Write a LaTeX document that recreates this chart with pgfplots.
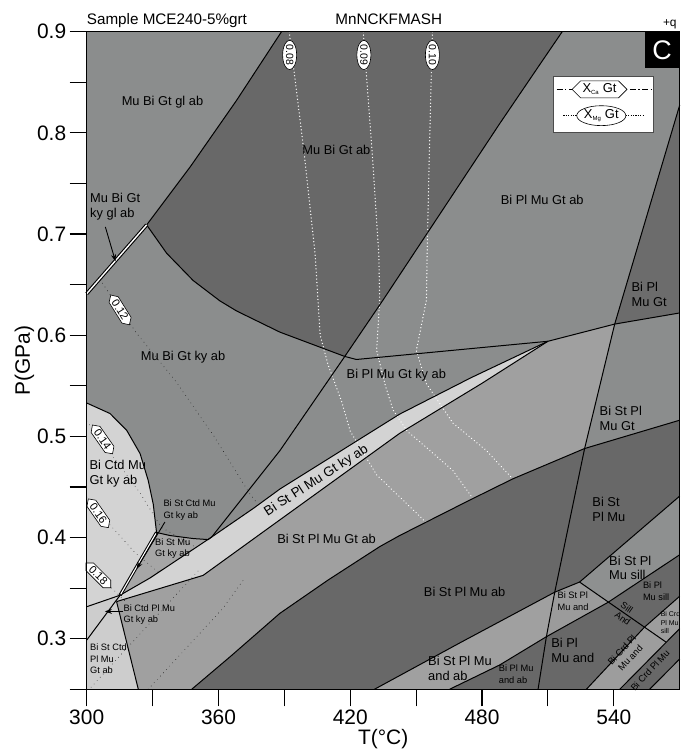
\documentclass[border=0pt]{standalone}
\usepackage{pgfplots}
\pgfplotsset{compat=1.18}
\usepackage{fontspec}
\setmainfont{Liberation Sans}
\usetikzlibrary{shapes.symbols,shapes.geometric,arrows.meta}
\definecolor{cbase}{RGB}{139,141,141}
\definecolor{cdark}{RGB}{104,104,104}
\definecolor{cmid}{RGB}{160,160,160}
\definecolor{clight}{RGB}{211,211,211}
\definecolor{cstmu}{RGB}{166,166,166}
\definecolor{cand}{RGB}{155,155,155}
\definecolor{csill}{RGB}{142,144,144}
\definecolor{ccrd}{RGB}{157,157,157}
\definecolor{cright}{RGB}{143,143,143}
\definecolor{cplmugt}{RGB}{108,108,108}
\newcommand{\lab}{\fontsize{12.9}{15}\selectfont}
\newcommand{\slab}{\fontsize{9.3}{11.5}\selectfont}
\newcommand{\tlab}{\fontsize{7}{8.5}\selectfont}
\begin{document}
\begin{tikzpicture}
\begin{axis}[
  scale only axis, width=593bp, height=657.6bp,
  xmin=300, xmax=570, ymin=0.25, ymax=0.9,
  axis on top, clip=false,
  axis background/.style={fill=cbase},
  axis line style={line width=1.1bp},
  tick align=outside, major tick length=17bp,
  tick style={black, line width=1.1bp},
  xtick pos=bottom, ytick pos=left,
  xtick={300,330,360,390,420,450,480,510,540},
  xticklabels={300,,360,,420,,480,,540},
  ytick={0.25,0.3,0.35,0.4,0.45,0.5,0.55,0.6,0.65,0.7,0.75,0.8,0.85,0.9},
  yticklabels={,0.3,,0.4,,0.5,,0.6,,0.7,,0.8,,0.9},
  ticklabel style={font=\fontsize{21}{21}\selectfont},
  /pgf/number format/assume math mode=true,
  xlabel={T(°C)}, ylabel={P(GPa)},
  label style={font=\fontsize{21}{21}\selectfont},
  xlabel style={yshift=2bp},
  ylabel style={yshift=-4bp},
]
% ---------- fields ----------
\addplot[draw=none, fill=cdark] coordinates {(388.7,0.9) (368.2,0.832) (347,0.766) (327.3,0.709) (336.4,0.681) (348.5,0.654) (360.6,0.634) (368.2,0.624) (388,0.603) (417.5,0.579) (435,0.635) (488,0.809) (507.7,0.872) (516.5,0.9)} -- cycle;
\addplot[draw=none, fill=cmid] coordinates {(313.6,0.3367) (353,0.3626) (380,0.405) (442.5,0.503) (480,0.5525) (510,0.594) (540.4,0.611) (526.7,0.488) (494,0.458) (474.4,0.437) (442.5,0.402) (433.4,0.391) (409.9,0.358) (387.9,0.325) (365.2,0.282) (347.8,0.25) (323.5,0.25)} -- cycle;
\addplot[draw=none, fill=cdark] coordinates {(347.8,0.25) (365.2,0.282) (387.9,0.325) (409.9,0.358) (433.4,0.391) (442.5,0.402) (474.4,0.437) (494,0.458) (526.7,0.488) (570,0.516) (570,0.25)} -- cycle;
\addplot[draw=none, fill=cmid] coordinates {(431,0.25) (470,0.296) (513.1,0.346) (509.3,0.302) (488,0.274) (465.2,0.25)} -- cycle;
\addplot[draw=none, fill=cand] coordinates {(513.1,0.346) (524.4,0.356) (537.4,0.336) (509.3,0.302)} -- cycle;
\addplot[draw=none, fill=csill] coordinates {(524.4,0.356) (570,0.441) (570,0.383) (537.4,0.336)} -- cycle;
\addplot[draw=none, fill=ccrd] coordinates {(527.5,0.25) (554,0.3115) (570,0.342) (570,0.31) (563.8,0.2966) (542.7,0.25)} -- cycle;
\addplot[draw=none, fill=cright] coordinates {(556.3,0.25) (570,0.28) (570,0.25)} -- cycle;
\addplot[draw=none, fill=cplmugt] coordinates {(540.4,0.611) (570,0.622) (570,0.8275)} -- cycle;
\addplot[draw=none, fill=clight] coordinates {(315.2,0.343) (328.8,0.36) (356.9,0.4005) (376,0.429) (388,0.448) (442.5,0.522) (475,0.558) (510,0.594) (480,0.5525) (442.5,0.503) (380,0.405) (353,0.3626) (313.6,0.3367)} -- cycle;
\addplot[draw=none, fill=cstmu] coordinates {(331.8,0.405) (337.9,0.402) (348.5,0.399) (355.3,0.398) (356.9,0.4005) (328.8,0.36) (315.2,0.343)} -- cycle;
\addplot[draw=none, fill=clight] coordinates {(300,0.533) (310.6,0.5226) (318.2,0.506) (324.3,0.483) (328,0.4565) (330.3,0.433) (331.8,0.405) (315.2,0.343) (300,0.3316)} -- cycle;
\addplot[draw=none, fill=clight!97!black] coordinates {(300,0.25) (323.5,0.25) (313.6,0.3367) (315.2,0.343) (300,0.3316)} -- cycle;
% ---------- X_Mg isopleths (white dotted) ----------
\pgfplotsset{mgiso/.style={white, line width=1.4bp, dash pattern=on 0.01bp off 3.4bp, line cap=round}}
\addplot[mgiso] coordinates {(392.2,0.9) (399,0.78) (404,0.68) (406.3,0.60) (410,0.57) (416,0.535) (420,0.505) (432,0.462) (444,0.437) (455,0.414)};
\addplot[mgiso] coordinates {(425.9,0.9) (430,0.78) (433,0.68) (433.4,0.635) (432,0.585) (436,0.55) (439.5,0.526) (446,0.505) (454.7,0.489) (466.8,0.466) (476,0.438)};
\addplot[mgiso] coordinates {(457.4,0.9) (456,0.78) (455,0.68) (454.7,0.635) (450.1,0.585) (454.7,0.552) (466.8,0.513) (482,0.486) (494,0.458)};
% ---------- X_Ca isopleths (black dotted) ----------
\pgfplotsset{caiso/.style={black!85, line width=0.9bp, dash pattern=on 0.01bp off 4.5bp, line cap=round}}
\addplot[caiso] coordinates {(306,0.655) (322.7,0.602) (340.2,0.5555) (358,0.50) (374.3,0.443) (378,0.433)};
\addplot[caiso] coordinates {(300,0.515) (312,0.48) (324,0.445) (334,0.41) (350,0.39)};
\addplot[caiso] coordinates {(300,0.44) (310,0.414) (322,0.385) (333,0.365)};
\addplot[caiso] coordinates {(300,0.376) (310,0.353) (318,0.336)};
\addplot[caiso] coordinates {(302,0.252) (318,0.29) (335,0.33) (352,0.37)};
\addplot[caiso] coordinates {(328,0.25) (345,0.29) (362,0.33) (372,0.36)};
% ---------- boundaries ----------
\pgfplotsset{bd/.style={black, line width=1bp}}
\addplot[bd] coordinates {(388.7,0.9) (368.2,0.832) (347,0.766) (327.3,0.709)};
\addplot[bd] coordinates {(327.3,0.709) (336.4,0.681) (348.5,0.654) (360.6,0.634) (368.2,0.624) (388,0.603) (417.5,0.579) (422.8,0.576) (510,0.594) (540.4,0.611) (570,0.622)};
\addplot[bd] coordinates {(516.5,0.9) (507.7,0.872) (488,0.809) (435,0.635) (417.5,0.579) (388,0.486) (356.9,0.4005)};
\addplot[bd] coordinates {(570,0.8275) (540.4,0.611) (526.7,0.488) (513.1,0.346) (509.3,0.302) (505.5,0.25)};
\addplot[bd] coordinates {(300,0.3316) (315.2,0.343) (328.8,0.36) (356.9,0.4005) (376,0.429) (388,0.448) (442.5,0.522) (475,0.558) (510,0.594)};
\addplot[bd] coordinates {(313.6,0.3367) (353,0.3626) (380,0.405) (442.5,0.503) (480,0.5525) (510,0.594)};
\addplot[bd] coordinates {(300,0.2986) (315.2,0.343)};
\addplot[bd] coordinates {(313.6,0.3367) (323.5,0.25)};
\addplot[bd] coordinates {(300,0.533) (310.6,0.5226) (318.2,0.506) (324.3,0.483) (328,0.4565) (330.3,0.433) (331.8,0.405) (337.9,0.402) (348.5,0.399) (355.3,0.398) (356.9,0.4005)};
\addplot[bd] coordinates {(347.8,0.25) (365.2,0.282) (387.9,0.325) (409.9,0.358) (433.4,0.391) (442.5,0.402) (474.4,0.437) (494,0.458) (526.7,0.488) (570,0.516)};
\addplot[bd] coordinates {(431,0.25) (470,0.296) (513.1,0.346) (524.4,0.356) (570,0.441)};
\addplot[bd] coordinates {(465.2,0.25) (488,0.274) (509.3,0.302) (537.4,0.336) (570,0.383)};
\addplot[bd] coordinates {(524.4,0.356) (563.8,0.2966)};
\addplot[bd] coordinates {(527.5,0.25) (554,0.3115) (570,0.342)};
\addplot[bd] coordinates {(542.7,0.25) (570,0.31)};
\addplot[bd] coordinates {(556.3,0.25) (570,0.28)};
% double lines
\addplot[black, line width=3.6bp] coordinates {(327.3,0.709) (300,0.641)};
\addplot[white, line width=1.4bp] coordinates {(327.3,0.709) (300,0.641)};
\addplot[black, line width=3.2bp] coordinates {(331.8,0.405) (315.2,0.343)};
\addplot[white, line width=1.1bp] coordinates {(331.5,0.404) (315.5,0.344)};
% arrows
\addplot[black, line width=0.9bp, -{Stealth[length=7bp,width=5bp]}] coordinates {(308.5,0.707) (313.1,0.673)};
\addplot[black, line width=0.9bp, -{Stealth[length=7bp,width=5bp]}] coordinates {(335.6,0.4153) (322.7,0.369)};
\addplot[black, line width=0.9bp, -{Stealth[length=7bp,width=5bp]}] coordinates {(316.4,0.327) (308.3,0.327)};
% ---------- isopleth labels ----------
\tikzset{mglab/.style={draw=black, fill=white, ellipse, inner sep=0.2bp, minimum height=14bp, rotate=-90, font=\fontsize{10.5}{10.5}\selectfont, line width=0.6bp},
         calab/.style={draw=black, fill=white, signal, signal to=west and east, inner xsep=1.5bp, inner ysep=1.5bp, font=\fontsize{11}{11}\selectfont, line width=0.6bp}}
\node[mglab] at (axis cs:392.4,0.877) {0.08};
\node[mglab] at (axis cs:426.2,0.877) {0.09};
\node[mglab] at (axis cs:457.4,0.877) {0.10};
\node[calab, rotate=-58] at (axis cs:315.2,0.625) {0.12};
\node[calab, rotate=-55] at (axis cs:307.2,0.497) {0.14};
\node[calab, rotate=-55] at (axis cs:305.3,0.424) {0.16};
\node[calab, rotate=-45] at (axis cs:305.3,0.3626) {0.18};
% ---------- field labels ----------
\node[font=\lab] at (axis cs:334.5,0.830) {Mu Bi Gt gl ab};
\node[font=\lab] at (axis cs:413.7,0.783) {Mu Bi Gt ab};
\node[font=\lab, align=left, anchor=west, inner sep=0pt] at (axis cs:301.5,0.727) {Mu Bi Gt\\ky gl ab};
\node[font=\lab] at (axis cs:507.4,0.7335) {Bi Pl Mu Gt ab};
\node[font=\lab, align=left, anchor=west, inner sep=0pt] at (axis cs:548,0.640) {Bi Pl\\Mu Gt};
\node[font=\lab, align=left, anchor=west, inner sep=0pt] at (axis cs:533.5,0.518) {Bi St Pl\\Mu Gt};
\node[font=\lab] at (axis cs:343.9,0.5785) {Mu Bi Gt ky ab};
\node[font=\lab] at (axis cs:441,0.5604) {Bi Pl Mu Gt ky ab};
\node[font=\lab, align=left, anchor=west, inner sep=0pt] at (axis cs:301.2,0.463) {Bi Ctd Mu\\Gt ky ab};
\node[font=\slab, align=left, anchor=west, inner sep=0pt] at (axis cs:334.9,0.427) {Bi St Ctd Mu\\Gt ky ab};
\node[font=\slab, align=left, anchor=west, inner sep=0pt] at (axis cs:331.1,0.389) {Bi St Mu\\Gt ky ab};
\node[font=\fontsize{13.5}{13.5}\selectfont, rotate=32.8] at (axis cs:404.6,0.456) {Bi St Pl Mu Gt ky ab};
\node[font=\lab] at (axis cs:409.2,0.399) {Bi St Pl Mu Gt ab};
\node[font=\lab] at (axis cs:472.1,0.346) {Bi St Pl Mu ab};
\node[font=\lab, align=left, anchor=west, inner sep=0pt] at (axis cs:530.2,0.428) {Bi St\\Pl Mu};
\node[font=\lab, align=left, anchor=west, inner sep=0pt] at (axis cs:537.8,0.370) {Bi St Pl\\Mu sill};
\node[font=\slab, align=left, anchor=west, inner sep=0pt] at (axis cs:553.2,0.347) {Bi Pl\\Mu sill};
\node[font=\slab, align=left, anchor=west, inner sep=0pt] at (axis cs:514.3,0.337) {Bi St Pl\\Mu and};
\node[font=\slab, rotate=-35] at (axis cs:545.9,0.331) {Sill};
\node[font=\slab, rotate=-35] at (axis cs:544.1,0.320) {And};
\node[font=\tlab, align=left, anchor=west, inner sep=0pt] at (axis cs:561.3,0.316) {Bi Crd\\Pl Mu\\sill};
\node[font=\lab, align=left, anchor=west, inner sep=0pt] at (axis cs:511.5,0.288) {Bi Pl\\Mu and};
\node[font=\lab, align=left, anchor=west, inner sep=0pt] at (axis cs:455.4,0.271) {Bi St Pl Mu\\and ab};
\node[font=\slab, align=left, anchor=west, inner sep=0pt] at (axis cs:487.6,0.265) {Bi Pl Mu\\and ab};
\node[font=\slab, rotate=47, align=center] at (axis cs:545.6,0.285) {Bi Crd Pl\\Mu and};
\node[font=\slab, rotate=47] at (axis cs:556.5,0.2687) {Bi Crd Pl Mu};
\node[font=\slab, align=left, anchor=west, inner sep=0pt] at (axis cs:301.5,0.280) {Bi St Ctd\\Pl Mu\\Gt ab};
\node[font=\slab, align=left, anchor=west, inner sep=0pt] at (axis cs:316.7,0.324) {Bi Ctd Pl Mu\\Gt ky ab};
% ---------- C box ----------
\node[fill=black, text=white, minimum width=35bp, minimum height=36bp, anchor=north east, inner sep=0pt, font=\fontsize{27}{27}\selectfont] at (axis cs:570,0.9) {C};
% ---------- legend ----------
\node[draw=black!70, line width=1bp, fill=white, minimum width=100bp, minimum height=55.6bp, inner sep=0pt] at (axis cs:535.35,0.828) {};
\addplot[black, line width=0.8bp, dash pattern=on 6bp off 2.5bp on 1.2bp off 2.5bp] coordinates {(514,0.843) (557,0.843)};
\addplot[black, line width=0.9bp, dash pattern=on 1.2bp off 1.2bp] coordinates {(517,0.817) (554,0.817)};
\node[draw=black, fill=white, signal, signal to=west and east, inner xsep=2bp, inner ysep=3bp, line width=0.6bp, font=\fontsize{13}{13}\selectfont] at (axis cs:533.5,0.843) {X\textsubscript{\fontsize{6}{6}\selectfont Ca} Gt};
\node[draw=black, fill=white, ellipse, inner xsep=0pt, inner ysep=1bp, line width=0.6bp, font=\fontsize{13}{13}\selectfont] at (axis cs:534.3,0.817) {X\textsubscript{\fontsize{6}{6}\selectfont Mg} Gt};
% ---------- titles ----------
\node[anchor=base west, inner sep=0pt, font=\fontsize{15.3}{15.3}\selectfont] at ([yshift=6.7bp]axis cs:300,0.9) {Sample MCE240-5\%grt};
\node[anchor=base, inner sep=0pt, font=\fontsize{15.3}{15.3}\selectfont] at ([yshift=6.7bp]axis cs:437.5,0.9) {MnNCKFMASH};
\node[anchor=base, inner sep=0pt, font=\fontsize{12}{12}\selectfont] at ([yshift=5bp]axis cs:565.5,0.9) {+q};
\end{axis}
\pgfresetboundingbox
\path ([shift={(-86.7bp,-62.7bp)}]current axis.south west) rectangle ([shift={(1bp,31.7bp)}]current axis.north east);
\end{tikzpicture}
\end{document}
